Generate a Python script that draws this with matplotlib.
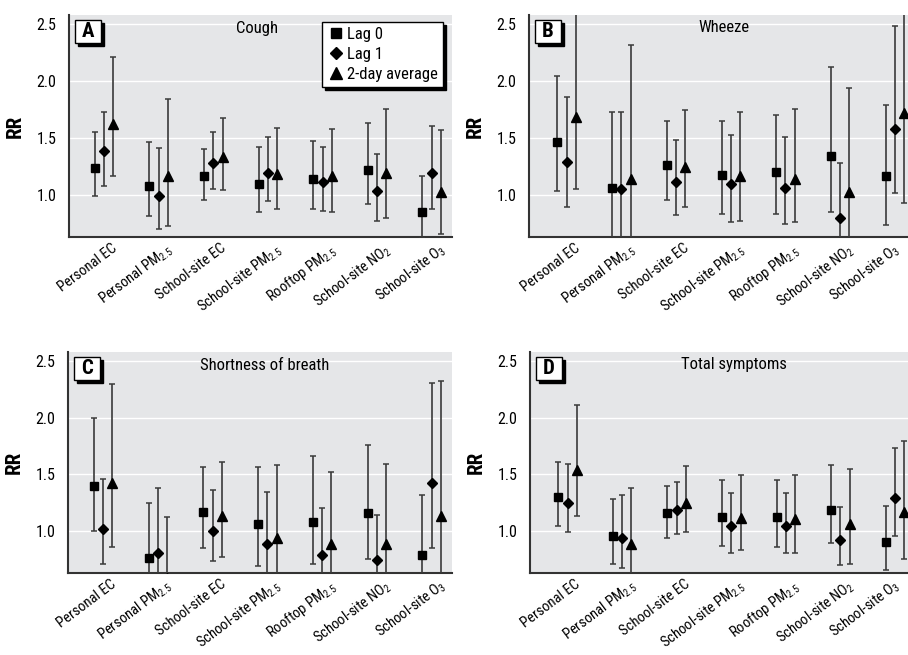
import numpy as np
import matplotlib
matplotlib.use("Agg")
from matplotlib import pyplot as plt
from matplotlib import font_manager as fm
from matplotlib.lines import Line2D
from matplotlib.patches import Rectangle
from matplotlib.transforms import ScaledTranslation

# pick a narrow face if one is around
installed = {f.name for f in fm.fontManager.ttflist}
narrow = [f for f in ["Liberation Sans Narrow", "Roboto Condensed", "Open Sans Condensed",
                      "Noto Sans Display", "DejaVu Sans"] if f in installed]
plt.rcParams['font.family'] = narrow + ['DejaVu Sans']
plt.rcParams['font.stretch'] = 'condensed'
plt.rcParams['mathtext.fontset'] = 'custom'
plt.rcParams['mathtext.rm'] = narrow[0] + ':stretch=condensed'

pollutants = ["Personal EC", "Personal PM$_{2.5}$", "School-site EC", "School-site PM$_{2.5}$",
              "Rooftop PM$_{2.5}$", "School-site NO$_2$", "School-site O$_3$"]
lag_names = ["Lag 0", "Lag 1", "2-day average"]

# (RR, lower, upper) per pollutant
cough_lag0 = [(1.23, 0.99, 1.55), (1.08, 0.81, 1.46), (1.16, 0.95, 1.40), (1.09, 0.85, 1.42),
              (1.14, 0.87, 1.47), (1.22, 0.92, 1.63), (0.85, 0.62, 1.16)]
cough_lag1 = [(1.38, 1.08, 1.73), (0.99, 0.70, 1.41), (1.28, 1.05, 1.55), (1.19, 0.94, 1.51),
              (1.11, 0.86, 1.42), (1.03, 0.77, 1.36), (1.19, 0.87, 1.60)]
cough_avg = [(1.62, 1.16, 2.21), (1.16, 0.72, 1.84), (1.33, 1.04, 1.67), (1.18, 0.87, 1.59),
             (1.16, 0.85, 1.58), (1.19, 0.79, 1.75), (1.02, 0.65, 1.57)]

wheeze_lag0 = [(1.46, 1.03, 2.04), (1.06, 0.55, 1.73), (1.26, 0.95, 1.65), (1.17, 0.83, 1.65),
               (1.20, 0.83, 1.70), (1.34, 0.85, 2.12), (1.16, 0.73, 1.79)]
wheeze_lag1 = [(1.29, 0.89, 1.86), (1.05, 0.55, 1.73), (1.11, 0.82, 1.48), (1.09, 0.76, 1.52),
               (1.06, 0.74, 1.51), (0.79, 0.55, 1.28), (1.58, 1.01, 2.48)]
wheeze_avg = [(1.68, 1.05, 2.60), (1.14, 0.55, 2.32), (1.24, 0.89, 1.74), (1.16, 0.77, 1.73),
              (1.14, 0.76, 1.75), (1.02, 0.55, 1.94), (1.72, 0.93, 2.65)]

breath_lag0 = [(1.40, 1.00, 2.00), (0.76, 0.55, 1.25), (1.17, 0.85, 1.56), (1.06, 0.69, 1.56),
               (1.08, 0.71, 1.66), (1.16, 0.75, 1.76), (0.79, 0.55, 1.32)]
breath_lag1 = [(1.02, 0.71, 1.46), (0.80, 0.55, 1.38), (1.00, 0.73, 1.36), (0.88, 0.55, 1.34),
               (0.79, 0.55, 1.20), (0.74, 0.55, 1.14), (1.42, 0.85, 2.31)]
breath_avg = [(1.42, 0.86, 2.30), (0.58, 0.40, 1.12), (1.13, 0.77, 1.61), (0.94, 0.55, 1.58),
              (0.88, 0.55, 1.52), (0.88, 0.55, 1.59), (1.13, 0.55, 2.32)]

total_lag0 = [(1.30, 1.04, 1.61), (0.95, 0.71, 1.28), (1.16, 0.94, 1.40), (1.12, 0.87, 1.45),
              (1.12, 0.86, 1.45), (1.18, 0.89, 1.58), (0.90, 0.65, 1.22)]
total_lag1 = [(1.25, 0.99, 1.59), (0.94, 0.67, 1.32), (1.18, 0.97, 1.43), (1.04, 0.80, 1.33),
              (1.04, 0.80, 1.33), (0.92, 0.70, 1.21), (1.29, 0.95, 1.73)]
total_avg = [(1.54, 1.13, 2.11), (0.88, 0.55, 1.38), (1.25, 0.99, 1.57), (1.11, 0.83, 1.49),
             (1.10, 0.80, 1.49), (1.06, 0.71, 1.55), (1.17, 0.75, 1.79)]

W, H = 908, 655
fig = plt.figure(figsize=(W / 100, H / 100), dpi=100)
fig.patch.set_facecolor("white")

markers = ["s", "D", "^"]
msizes = [6, 5.5, 7.5]
offsets = [-0.17, 0, 0.17]


def panel(l, r, t, b, xlim, letter, title, title_x, series, legend=False, last_shift=0.07):
    pw, ph = r - l, b - t
    ax = fig.add_axes([l / W, 1 - b / H, pw / W, ph / H])
    ax.set_facecolor("#e5e6e8")
    for v in [1.0, 1.5, 2.0, 2.5]:
        ax.axhline(v, color="white", lw=1.0, zorder=0)
    x = np.arange(len(pollutants))
    for k, data in enumerate(series):
        d = np.array(data)
        est, lo, hi = d[:, 0], d[:, 1], d[:, 2]
        ax.errorbar(x + offsets[k], est, yerr=[est - lo, hi - est], fmt=markers[k],
                    ms=msizes[k], mfc="black", mec="black", ecolor="#3a3a3a",
                    elinewidth=1.2, capsize=2.5, capthick=1.1, zorder=3)
    ax.set_xlim(*xlim)
    ax.set_ylim(0.627, 2.58)
    ax.set_yticks([1.0, 1.5, 2.0, 2.5])
    ax.set_yticklabels(["1.0", "1.5", "2.0", "2.5"])
    ax.set_xticks(x)
    ax.tick_params(axis="x", length=0, pad=3, labelsize=10.5)
    ax.tick_params(axis="y", length=0, pad=9, labelsize=11.5)
    ax.set_xticklabels(pollutants, rotation=37, ha="right", rotation_mode="anchor")
    labs = ax.get_xticklabels()
    for i, lab in enumerate(labs):
        dx = last_shift if i == len(labs) - 1 else 0.07
        lab.set_transform(lab.get_transform() + ScaledTranslation(dx, 0, fig.dpi_scale_trans))
    for s in ["top", "right"]:
        ax.spines[s].set_visible(False)
    for s in ["left", "bottom"]:
        ax.spines[s].set_color("#333333")
        ax.spines[s].set_linewidth(1.5)
    ax.set_ylabel("RR", fontsize=15, fontweight="bold")
    ax.yaxis.set_label_coords(-44 / pw, 0.5)
    ax.text(title_x, 1 - 13 / ph, title, transform=ax.transAxes, ha="center",
            va="center", fontsize=12)

    # letter box with shadow
    bx, by, bw, bh = 6 / pw, 1 - 28 / ph, 26 / pw, 23 / ph
    ax.add_patch(Rectangle((bx + 3 / pw, by - 3 / ph), bw, bh, transform=ax.transAxes,
                           facecolor="black", edgecolor="black", zorder=5, clip_on=False))
    ax.add_patch(Rectangle((bx, by), bw, bh, transform=ax.transAxes,
                           facecolor="white", edgecolor="black", lw=1.0, zorder=6, clip_on=False))
    ax.text(bx + bw / 2, by + bh / 2, letter, transform=ax.transAxes, ha="center",
            va="center", fontsize=15, fontweight="bold", zorder=7)

    if legend:
        handles = [Line2D([], [], marker=markers[k], ms=msizes[k] + 1, color="black", ls="none")
                   for k in range(3)]
        leg = ax.legend(handles, lag_names, loc="upper right",
                        bbox_to_anchor=(1 - 9 / pw, 1 - 7 / ph), borderaxespad=0,
                        fancybox=False, edgecolor="black", framealpha=1,
                        shadow={"color": "black", "alpha": 1}, fontsize=12,
                        handletextpad=0.1, handlelength=1.1, labelspacing=0.3,
                        borderpad=0.3)
        leg.get_frame().set_linewidth(1.0)
        leg.set_zorder(8)
    return ax


panel(69, 452, 15, 237, (-0.64, 6.37), "A", "Cough", 0.49,
      [cough_lag0, cough_lag1, cough_avg], legend=True)
panel(529, 908, 15, 237, (-0.69, 6.24), "B", "Wheeze", 0.515,
      [wheeze_lag0, wheeze_lag1, wheeze_avg], last_shift=-0.02)
panel(68, 452, 352, 573, (-0.64, 6.37), "C", "Shortness of breath", 0.513,
      [breath_lag0, breath_lag1, breath_avg])
panel(530, 908, 352, 573, (-0.69, 6.24), "D", "Total symptoms", 0.54,
      [total_lag0, total_lag1, total_avg], last_shift=-0.02)

fig.savefig("out.png", dpi=100)
